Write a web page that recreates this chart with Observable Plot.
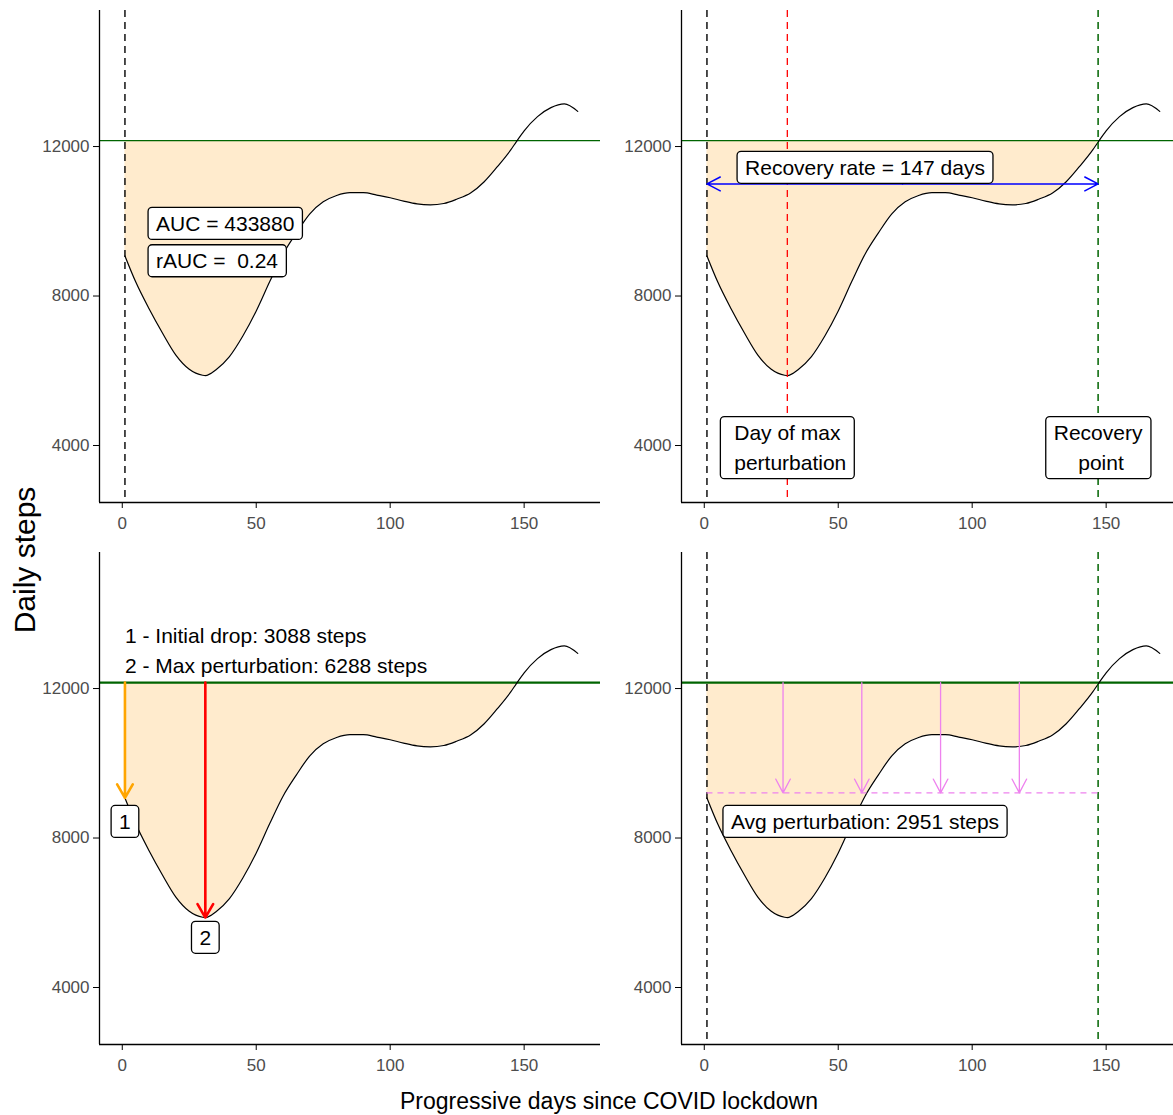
<!DOCTYPE html>
<html>
<head>
<meta charset="utf-8">
<script src="https://cdn.jsdelivr.net/npm/d3@7"></script>
<script src="https://cdn.jsdelivr.net/npm/@observablehq/plot@0.6"></script>
<style>
  html, body { margin: 0; padding: 0; background: #fff; overflow: hidden; }
  #chart { position: relative; width: 1173px; height: 1115px; overflow: hidden; background: #fff;
           font-family: "Liberation Sans", Arial, sans-serif; }
</style>
</head>
<body>
<div id="chart"></div>
<script>
// ---- data ----
const days  = [1, 5, 10, 15, 20, 25, 30, 31, 35, 40, 45, 50, 55, 60, 65, 70, 75, 80, 85, 90,
               95, 100, 105, 110, 115, 120, 125, 130, 135, 140, 145, 147, 150, 155, 160, 165, 170];
const steps = [9072, 8380, 7660, 7010, 6420, 6040, 5880, 5872, 6030, 6380, 6930, 7600, 8380, 9120, 9690, 10200, 10520, 10690, 10765, 10765,
               10700, 10630, 10540, 10465, 10440, 10475, 10595, 10755, 11050, 11460, 11910, 12120, 12420, 12800, 13040, 13140, 12940];

const baseline = 12160;          // pre-lockdown level
const startDay = 1;
const maxPerturbationDay = 31;
const recoveryDay = 147;
const initialDrop = 3088;
const maxPerturbation = 6288;
const avgPerturbation = 2951;
const avgArrowDays = [29.4, 58.8, 88.2, 117.6];
const recoveryArrowSteps = 11000;

const xTicks = [0, 50, 100, 150];
const yTicks = [4000, 8000, 12000];

const aucLabels = [
  {day: 10, steps: 10000, text: "AUC = 433880"},
  {day: 10, steps: 9000,  text: "rAUC =  0.24"}
];
const recoveryRateLabel = [{day: 60, steps: 11500, text: "Recovery rate = 147 days"}];
const pointLabels = [
  {day: 31,  steps: 4000, text: "Day of max\n perturbation"},
  {day: 147, steps: 4000, text: "Recovery\n point"}
];
const dropLegend = [
  {day: 1, steps: 13400, text: "1 - Initial drop: 3088 steps"},
  {day: 1, steps: 12600, text: "2 - Max perturbation: 6288 steps"}
];
const dropNumbers = [
  {day: 1,  steps: 8500, text: "1"},
  {day: 31, steps: 5400, text: "2"}
];
const avgLabel = [{day: 60, steps: 8500, text: "Avg perturbation: 2951 steps"}];

// ---- derived tables ----
const series = days.map((d, i) => ({day: d, steps: steps[i]}));
const deficit = series.filter(d => d.day <= recoveryDay);
const dropArrows = [
  {day: startDay, from: baseline, to: baseline - initialDrop, color: "orange"},
  {day: maxPerturbationDay, from: baseline, to: baseline - maxPerturbation, color: "red"}
];
const avgLevel = baseline - avgPerturbation;
const pinkArrows = avgArrowDays.map(d => ({day: d, from: baseline, to: avgLevel}));
const midRecovery = (startDay + recoveryDay) / 2;
const blueArrows = [
  {x1: midRecovery, x2: recoveryDay, y: recoveryArrowSteps},
  {x1: midRecovery, x2: startDay, y: recoveryArrowSteps}
];

const xDomain = [-8.5, 178.5];
const yDomain = [2475, 15640];
const FONT = '"Liberation Sans", Arial, sans-serif';
const LABEL_SIZE = 21;
const CURVE = "monotone-x";

function panel(pos, hlineWidth, over, labels) {
  return Plot.plot({
    width: 600, height: 540,
    marginLeft: 99, marginRight: 0, marginTop: 10, marginBottom: 38,
    x: {domain: xDomain},
    y: {domain: yDomain},
    style: {position: "absolute", left: pos[0] + "px", top: pos[1] + "px", maxWidth: "none",
            fontFamily: FONT, background: "transparent", overflow: "visible"},
    marks: [
      Plot.area(deficit, {x1: "day", y1: baseline, y2: "steps", fill: "#FFEBCD", curve: CURVE}),
      Plot.ruleY([baseline], {stroke: "#006400", strokeWidth: hlineWidth}),
      Plot.line(series, {x: "day", y: "steps", stroke: "black", strokeWidth: 1.2, curve: CURVE}),
      ...over,
      Plot.ruleX([xDomain[0]], {stroke: "black", strokeWidth: 1.3}),
      Plot.ruleY([yDomain[0]], {stroke: "black", strokeWidth: 1.3}),
      Plot.axisX(xTicks, {tickSize: 6, tickPadding: 8, fontSize: 17, fill: "#4d4d4d", stroke: "black",
                          label: null, tickFormat: d3.format("d")}),
      Plot.axisY(yTicks, {tickSize: 6, tickPadding: 4, fontSize: 17, fill: "#4d4d4d", stroke: "black",
                          label: null, tickFormat: d3.format("d")}),
      ...labels
    ]
  });
}

const boxed = (data, opts = {}) => Plot.text(data, {
  x: "day", y: "steps", text: "text", fontSize: LABEL_SIZE, fill: "black",
  lineHeight: 1.43, ariaDescription: "boxed", ...opts
});

const startLine = Plot.ruleX([startDay], {stroke: "black", strokeWidth: 1.4, strokeDasharray: "7,5"});
const recoveryLine = Plot.ruleX([recoveryDay], {stroke: "#006400", strokeWidth: 1.5, strokeDasharray: "7,5"});

const panels = [
  panel([0, 0], 1.3,
    [startLine],
    [boxed(aucLabels, {textAnchor: "start", dx: 7})]),
  panel([582, 0], 1.3,
    [startLine,
     Plot.ruleX([maxPerturbationDay], {stroke: "#ff0000", strokeWidth: 1.3, strokeDasharray: "7,5"}),
     recoveryLine,
     Plot.arrow(blueArrows, {x1: "x1", x2: "x2", y1: "y", y2: "y", stroke: "blue", strokeWidth: 1.5,
                             headLength: 15, headAngle: 55})],
    [boxed(recoveryRateLabel), boxed(pointLabels)]),
  panel([0, 542], 2.2,
    [Plot.arrow(dropArrows, {x1: "day", x2: "day", y1: "from", y2: "to", stroke: "color", strokeWidth: 2.6,
                             headLength: 9, headAngle: 60})],
    [Plot.text(dropLegend, {x: "day", y: "steps", text: "text", textAnchor: "start", fontSize: LABEL_SIZE, fill: "black"}),
     boxed(dropNumbers)]),
  panel([582, 542], 2.2,
    [startLine, recoveryLine,
     Plot.ruleY([avgLevel], {x1: startDay, x2: recoveryDay, stroke: "violet", strokeWidth: 1.3, strokeDasharray: "6,5"}),
     Plot.arrow(pinkArrows, {x1: "day", x2: "day", y1: "from", y2: "to", stroke: "violet", strokeWidth: 1.3,
                             headLength: 18, headAngle: 56})],
    [boxed(avgLabel)])
];

const chart = document.getElementById("chart");
const NS = "http://www.w3.org/2000/svg";
for (const svg of panels) {
  chart.appendChild(svg);
  svg.querySelectorAll('g[aria-description="boxed"] text').forEach(t => {
    const b = t.getBBox();
    const r = document.createElementNS(NS, "rect");
    const px = 8, py = 4.5;
    r.setAttribute("x", b.x - px);
    r.setAttribute("y", b.y - py);
    r.setAttribute("width", b.width + 2 * px);
    r.setAttribute("height", b.height + 2 * py);
    r.setAttribute("rx", 4);
    r.setAttribute("fill", "white");
    r.setAttribute("stroke", "black");
    r.setAttribute("stroke-width", 1.3);
    const tr = t.getAttribute("transform");
    if (tr) r.setAttribute("transform", tr);
    t.parentNode.insertBefore(r, t);
  });
}

// shared axis titles
const titles = document.createElementNS(NS, "svg");
titles.setAttribute("width", 1173);
titles.setAttribute("height", 1115);
titles.setAttribute("style", "position:absolute;left:0;top:0;pointer-events:none;font-family:" + FONT);
const yTitle = document.createElementNS(NS, "text");
yTitle.setAttribute("transform", "translate(35,560) rotate(-90)");
yTitle.setAttribute("text-anchor", "middle");
yTitle.setAttribute("font-size", 30);
yTitle.textContent = "Daily steps";
const xTitle = document.createElementNS(NS, "text");
xTitle.setAttribute("x", 609);
xTitle.setAttribute("y", 1109);
xTitle.setAttribute("text-anchor", "middle");
xTitle.setAttribute("font-size", 23);
xTitle.textContent = "Progressive days since COVID lockdown";
titles.appendChild(yTitle);
titles.appendChild(xTitle);
chart.appendChild(titles);
</script>
</body>
</html>
